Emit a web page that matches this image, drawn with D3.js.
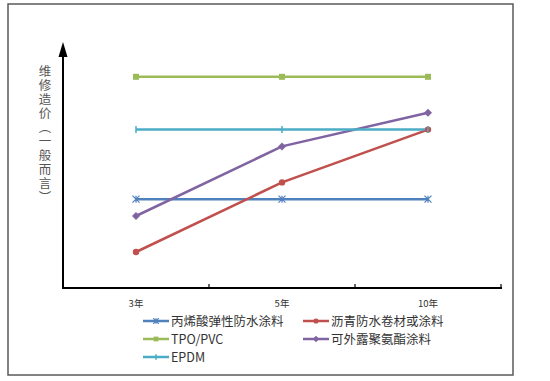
<!DOCTYPE html>
<html><head><meta charset="utf-8">
<script src="https://cdn.jsdelivr.net/npm/d3@7"></script>
<style>
html,body{margin:0;padding:0;background:#fff;}
svg{display:block;font-family:"Noto Sans CJK SC","Liberation Sans",sans-serif;}
</style></head>
<body><svg id="c" width="550" height="381"></svg>
<script>
const categories = ["3年", "5年", "10年"];
const seriesNames = ["丙烯酸弹性防水涂料", "沥青防水卷材或涂料", "TPO/PVC", "可外露聚氨酯涂料", "EPDM"];
const acrylic = [37, 37, 37];
const asphalt = [15, 44, 66];
const tpo = [88, 88, 88];
const polyurethane = [30, 59, 73];
const epdm = [66, 66, 66];
const yAxisTitle = "维修造价（一般而言）";

const seriesValues = [acrylic, asphalt, tpo, polyurethane, epdm];
const colors = ["#4F81BD", "#C0504D", "#9BBB59", "#8064A2", "#4BACC6"];
const markers = ["asterisk", "circle", "square", "diamond", "plus"];

const svg = d3.select("#c");

// outer frame
svg.append("rect").attr("x", 8).attr("y", 4).attr("width", 505).attr("height", 371)
  .attr("fill", "#fff").attr("stroke", "#5a5a5a").attr("stroke-width", 1.5);

const x = d3.scaleBand().domain(categories).range([63, 501]);
const y = d3.scaleLinear().domain([0, 100]).range([288, 48]);
const cx = c => x(c) + x.bandwidth() / 2;

// lines
const line = d3.line().x((d, i) => cx(categories[i])).y(d => y(d));
seriesValues.forEach((vals, s) => {
  svg.append("path").attr("d", line(vals)).attr("fill", "none")
    .attr("stroke", colors[s]).attr("stroke-width", 2.5);
});

function drawMarker(g, type, color, px, py, scale) {
  scale = scale || 1;
  if (type === "circle") {
    g.append("circle").attr("cx", px).attr("cy", py).attr("r", 3.2 * scale).attr("fill", color);
  } else if (type === "square") {
    const s = 6 * scale;
    g.append("rect").attr("x", px - s / 2).attr("y", py - s / 2).attr("width", s).attr("height", s).attr("fill", color);
  } else if (type === "diamond") {
    const r = 4 * scale;
    g.append("path").attr("d", `M${px},${py - r}L${px + r},${py}L${px},${py + r}L${px - r},${py}Z`).attr("fill", color);
  } else if (type === "plus") {
    g.append("path").attr("d", `M${px},${py - 3.5 * scale}V${py + 3.5 * scale}`).attr("stroke", color).attr("stroke-width", 1.5);
  } else if (type === "asterisk") {
    const r = 3.5 * scale;
    g.append("path").attr("d", `M${px - r},${py - r}L${px + r},${py + r}M${px - r},${py + r}L${px + r},${py - r}M${px},${py - r}V${py + r}`)
      .attr("stroke", color).attr("stroke-width", 1.2);
  }
}

seriesValues.forEach((vals, s) => {
  vals.forEach((v, i) => drawMarker(svg, markers[s], colors[s], cx(categories[i]), y(v), 1));
});

// axes
svg.append("line").attr("x1", 63).attr("x2", 63).attr("y1", 52).attr("y2", 289)
  .attr("stroke", "#000").attr("stroke-width", 2);
svg.append("path").attr("d", "M63,42L67.5,57L58.5,57Z").attr("fill", "#000");
svg.append("line").attr("x1", 62).attr("x2", 502).attr("y1", 288).attr("y2", 288)
  .attr("stroke", "#000").attr("stroke-width", 2);
// tick marks at band boundaries
categories.forEach((c, i) => {
  if (i === 0) return;
  svg.append("line").attr("x1", x(c)).attr("x2", x(c)).attr("y1", 284).attr("y2", 288).attr("stroke", "#000").attr("stroke-width", 1.2);
});
svg.append("line").attr("x1", 501).attr("x2", 501).attr("y1", 284).attr("y2", 288).attr("stroke", "#000").attr("stroke-width", 1.2);

// category labels
svg.selectAll("text.cat").data(categories).enter().append("text").attr("class", "cat")
  .attr("x", d => cx(d)).attr("y", 307).attr("text-anchor", "middle")
  .attr("font-size", 9.5).attr("fill", "#333").text(d => d);

// y axis title (vertical)
svg.append("text").attr("x", 45).attr("y", 65)
  .style("writing-mode", "vertical-rl").attr("font-size", 12.5).attr("fill", "#555")
  .attr("letter-spacing", 1.5).text(yAxisTitle);

// legend
const legPos = [[143, 321], [303, 321], [143, 339], [303, 339], [143, 357]];
seriesNames.forEach((name, s) => {
  const [lx, ly] = legPos[s];
  const g = svg.append("g");
  g.append("line").attr("x1", lx).attr("x2", lx + 26).attr("y1", ly).attr("y2", ly)
    .attr("stroke", colors[s]).attr("stroke-width", 2.5);
  drawMarker(g, markers[s], colors[s], lx + 13, ly, 0.8);
  g.append("text").attr("x", lx + 28).attr("y", ly + 4.5).attr("font-size", 12.5)
    .attr("fill", "#333").text(name);
});
</script></body></html>
